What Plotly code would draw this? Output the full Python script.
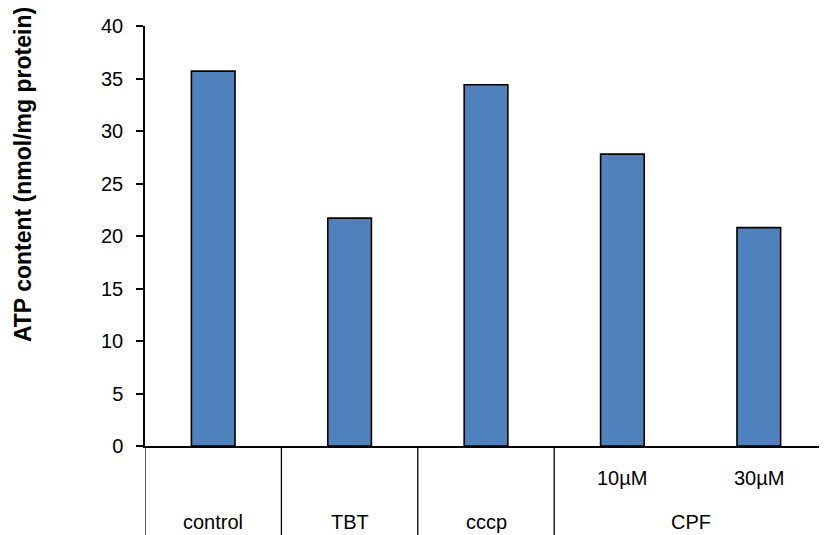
import plotly.graph_objects as go

groups = ["control", "TBT", "cccp", "CPF", "CPF"]
subs = ["", "", "", "10µM", "30µM"]
values = [35.7, 21.7, 34.4, 27.8, 20.8]
y_ticks = [0, 5, 10, 15, 20, 25, 30, 35, 40]
y_title = "ATP content (nmol/mg protein)"

FONT = "Arial, Liberation Sans, sans-serif"
xpos = list(range(len(values)))

fig = go.Figure()
fig.add_trace(go.Bar(
    x=xpos, y=values, width=0.32,
    marker=dict(color="#4F81BD", line=dict(color="black", width=1.6)),
    showlegend=False,
))

# group extents
spans = []
start = 0
for i in range(1, len(groups) + 1):
    if i == len(groups) or groups[i] != groups[start]:
        spans.append((groups[start], start, i - 1))
        start = i

shapes = []
annotations = []
for name, a, b in spans:
    shapes.append(dict(type="line", xref="x", yref="paper", x0=a - 0.5, x1=a - 0.5,
                       y0=0, y1=-0.25, line=dict(color="black", width=1.3)))
    annotations.append(dict(x=(a + b) / 2, y=-0.18, xref="x", yref="paper", text=name,
                            showarrow=False, yanchor="middle",
                            font=dict(family=FONT, size=20, color="black")))
for i, s in enumerate(subs):
    if s:
        annotations.append(dict(x=i, y=-0.077, xref="x", yref="paper", text=s,
                                showarrow=False, yanchor="middle",
                                font=dict(family=FONT, size=20, color="black")))

# y-axis title
annotations.append(dict(x=0, y=0.645, xref="paper", yref="paper", text="<b>" + y_title + "</b>",
                        textangle=-90, showarrow=False, xanchor="center", yanchor="middle",
                        xshift=-122, font=dict(family=FONT, size=23, color="black")))

fig.update_layout(
    width=819, height=527,
    margin=dict(l=137, r=0, t=18, b=89),
    paper_bgcolor="white", plot_bgcolor="white",
    font=dict(family=FONT, size=20, color="black"),
    xaxis=dict(range=[-0.5, len(values) - 0.5], showticklabels=False, ticks="",
               showgrid=False, zeroline=False, showline=True, linecolor="black", linewidth=2),
    yaxis=dict(range=[0, 40], tickvals=y_ticks, ticks="outside", ticklen=7, tickwidth=1.5,
               tickcolor="black", showgrid=False, zeroline=False, showline=True,
               linecolor="black", linewidth=1.5, ticklabelstandoff=9,
               tickfont=dict(family=FONT, size=20, color="black")),
    shapes=shapes, annotations=annotations,
)

fig.write_html("out.html")
